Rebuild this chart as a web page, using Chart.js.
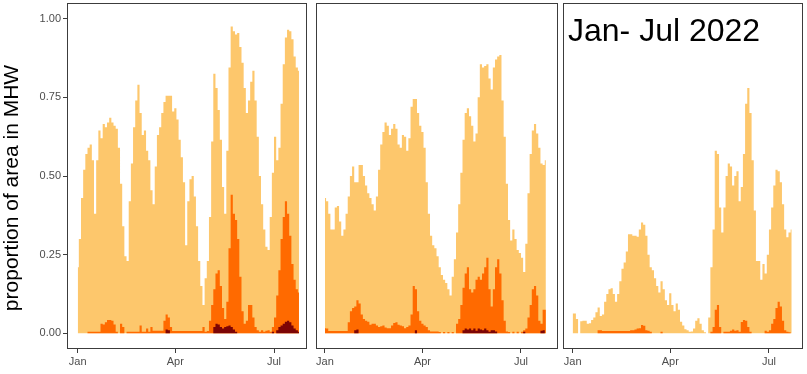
<!DOCTYPE html>
<html>
<head>
<meta charset="utf-8">
<script src="https://cdn.jsdelivr.net/npm/chart.js@4.4.1/dist/chart.umd.min.js"></script>
<style>
html,body{margin:0;padding:0;background:#fff;width:807px;height:374px;overflow:hidden}
.p{position:absolute;top:0;height:374px}
canvas{display:block}
</style>
</head>
<body>
<div class="p" style="left:0;width:310px"><canvas id="c1" width="310" height="374"></canvas></div>
<div class="p" style="left:310px;width:252px"><canvas id="c2" width="252" height="374"></canvas></div>
<div class="p" style="left:560px;width:247px"><canvas id="c3" width="247" height="374"></canvas></div>
<script>
// day of year (0 = 1 Jan), every second day
const days = [0,2,4,6,8,10,12,14,16,18,20,22,24,26,28,30,32,34,36,38,40,42,44,46,48,50,52,54,56,58,60,62,64,66,68,70,72,74,76,78,80,82,84,86,88,90,92,94,96,98,100,102,104,106,108,110,112,114,116,118,120,122,124,126,128,130,132,134,136,138,140,142,144,146,148,150,152,154,156,158,160,162,164,166,168,170,172,174,176,178,180,182,184,186,188,190,192,194,196,198,200,202,204];
const tickDays = [0, 90, 181];
const tickLabels = ['Jan', 'Apr', 'Jul'];
const yTicks = [0, 0.25, 0.5, 0.75, 1];
const yTitle = 'proportion of area in MHW';
const panelLabel = 'Jan- Jul 2022';

// Panel 1
const p1Moderate = [
0.21,0.30,0.43,0.52,0.57,0.59,0.60,0.55,0.38,0.55,
0.645,0.62,0.665,0.655,0.67,0.685,0.67,0.66,0.65,0.59,
0.475,0.34,0.245,0.23,0.42,0.54,0.655,0.74,0.79,0.70,
0.63,0.645,0.58,0.55,0.455,0.41,0.53,0.63,0.655,0.70,
0.735,0.755,0.755,0.755,0.705,0.715,0.68,0.615,0.56,0.48,
0.28,0.42,0.49,0.50,0.435,0.34,0.23,0.15,0.09,0.175,
0.23,0.37,0.61,0.825,0.78,0.71,0.615,0.465,0.38,0.58,
0.845,0.975,0.96,0.95,0.955,0.91,0.86,0.78,0.70,0.74,
0.80,0.835,0.74,0.625,0.50,0.41,0.33,0.275,0.265,0.37,
0.51,0.625,0.55,0.59,0.73,0.855,0.94,0.965,0.96,0.935,
0.88,0.845,0.835];
const p1Strong = [
0,0,0,0,0,0.005,0.005,0.005,0.005,0.005,
0.005,0.03,0.028,0.035,0.042,0.042,0.04,0.028,0.005,0,
0.03,0.02,0,0.005,0.005,0.005,0.005,0.005,0.005,0.025,
0.005,0.005,0.015,0.005,0.02,0.008,0.008,0.008,0.008,0.008,
0.04,0.06,0.05,0.02,0.007,0.007,0.007,0.007,0.007,0.007,
0.007,0.007,0.007,0.007,0.007,0.007,0.007,0.007,0.02,0.005,
0.007,0.04,0.09,0.14,0.19,0.20,0.15,0.08,0.045,0.10,
0.27,0.44,0.38,0.36,0.30,0.18,0.07,0.03,0.04,0.09,
0.09,0.05,0.02,0.01,0.005,0.01,0.005,0.008,0.01,0.005,
0.02,0.05,0.12,0.20,0.30,0.37,0.42,0.38,0.31,0.22,
0.17,0.14,0.13];
const p1Severe = [
0,0,0,0,0,0,0,0,0,0,
0,0,0,0,0,0,0,0,0,0,
0,0,0,0,0,0,0,0,0,0,
0,0,0,0,0,0,0,0,0,0,
0,0.012,0.01,0,0,0,0,0,0,0,
0,0,0,0,0,0,0,0,0,0,
0,0,0,0.02,0.03,0.028,0.02,0.015,0.02,0.022,
0.025,0.02,0.012,0.005,0,0,0,0,0,0,
0,0,0,0,0,0,0,0,0,0,
0.005,0,0.01,0.02,0.025,0.03,0.037,0.04,0.035,0.025,
0.015,0.01,0.005];

// Panel 2
const p2Moderate = [
0.43,0.42,0.38,0.33,0.33,0.40,0.405,0.355,0.31,0.33,
0.38,0.435,0.50,0.53,0.48,0.48,0.535,0.535,0.50,0.47,
0.445,0.43,0.41,0.39,0.435,0.52,0.60,0.64,0.67,0.66,
0.63,0.65,0.665,0.65,0.60,0.59,0.63,0.625,0.58,0.62,
0.72,0.745,0.745,0.70,0.66,0.64,0.59,0.48,0.38,0.31,
0.28,0.27,0.245,0.21,0.185,0.17,0.16,0.14,0.12,0.18,
0.235,0.32,0.41,0.51,0.615,0.70,0.715,0.69,0.66,0.61,
0.635,0.75,0.855,0.845,0.85,0.855,0.81,0.775,0.845,0.87,
0.88,0.885,0.74,0.625,0.475,0.36,0.295,0.33,0.30,0.265,
0.255,0.24,0.195,0.285,0.445,0.57,0.645,0.665,0.635,0.59,
0.54,0.535,0.55];
const p2Strong = [
0.016,0.015,0.007,0.007,0.007,0.007,0.007,0.007,0.007,0.007,
0.007,0.035,0.07,0.08,0.085,0.105,0.095,0.06,0.045,0.04,
0.037,0.027,0.03,0.03,0.025,0.02,0.022,0.025,0.018,0.016,
0.016,0.025,0.033,0.035,0.027,0.025,0.022,0.016,0.02,0.025,
0.06,0.15,0.14,0.07,0.04,0.03,0.025,0.02,0.01,0.006,
0.006,0.006,0.006,0.004,0,0.004,0,0.004,0,0.004,
0,0.03,0.045,0.09,0.145,0.19,0.21,0.14,0.13,0.14,
0.17,0.18,0.17,0.19,0.21,0.24,0.14,0.085,0.14,0.21,
0.235,0.19,0.105,0.04,0.006,0.004,0,0.005,0,0.005,
0,0.005,0.01,0.015,0.05,0.09,0.14,0.15,0.12,0.04,
0.03,0.075,0.075];
const p2Severe = [
0,0,0,0,0,0,0,0,0,0,
0,0,0,0,0.01,0.012,0,0,0,0,
0,0,0,0,0,0,0,0,0,0,
0,0,0,0,0,0,0,0,0,0,
0,0,0.01,0,0,0,0,0,0,0,
0,0,0,0,0,0,0,0,0,0,
0,0,0,0,0.01,0.015,0.012,0.015,0.01,0.015,
0.008,0.015,0.012,0.01,0.015,0.01,0.005,0.01,0.01,0.006,
0,0,0,0,0,0,0,0,0,0,
0,0,0.005,0,0,0,0,0,0,0,
0.008,0.01,0];

// Panel 3 (Jan - Jul 2022)
const p3Moderate = [
0.063,0.063,0.045,0,0.038,0.04,0.04,0.03,0.032,0.042,
0.05,0.067,0.082,0.055,0.06,0.10,0.125,0.14,0.143,0.125,
0.10,0.125,0.165,0.205,0.225,0.26,0.315,0.315,0.31,0.31,
0.307,0.33,0.352,0.345,0.31,0.25,0.21,0.20,0.175,0.15,
0.13,0.165,0.14,0.105,0.09,0.127,0.09,0.07,0.095,0.075,
0.037,0.025,0.013,0.01,0.005,0.006,0.015,0.04,0.048,0.03,
0.01,0.003,0,0.05,0.21,0.33,0.58,0.57,0.40,0.32,
0.40,0.50,0.54,0.53,0.47,0.50,0.515,0.42,0.465,0.57,
0.73,0.78,0.70,0.55,0.39,0.23,0.23,0.17,0.22,0.19,
0.25,0.33,0.40,0.47,0.52,0.515,0.48,0.41,0.33,0.305,
0.32,0.33,null];
const p3Strong = [
0,0,0,0,0,0,0,0,0,0,
0,0,0.01,0.01,0.007,0.007,0.007,0.007,0.007,0.007,
0.007,0.007,0.007,0.007,0.007,0.007,0.007,0.01,0.01,0.012,
0.015,0.016,0.026,0.024,0.01,0.008,0.005,0,0,0,
0,0.005,0,0,0,0,0,0,0,0,
0,0,0,0,0,0,0,0,0,0,
0,0,0,0,0.005,0.02,0.075,0.09,0.02,0,
0.005,0.005,0.005,0.008,0.012,0.008,0.01,0.005,0.036,0.042,
0.04,0.02,0.005,0,0,0,0,0,0,0.008,
0.005,0.01,0.03,0.045,0.08,0.10,0.085,0.04,0.01,0.005,
0.003,0,null];

const COLORS = {moderate:'#FDC76C', strong:'#FF6A00', severe:'#7D0505'};
const FONT = '"Liberation Sans", Arial, Helvetica, sans-serif';

function series(vals, color, order){
  return {
    type:'line',
    data: days.map((d,i)=>({x:d, y:vals[i]})),
    stepped:'middle',
    fill:'origin',
    backgroundColor:color,
    borderColor:'rgba(0,0,0,0)',
    borderWidth:0,
    pointRadius:0,
    order:order
  };
}

const framePlugin = {
  id:'frame',
  afterDatasetsDraw(chart){
    const {ctx, chartArea:a} = chart;
    ctx.save();
    ctx.strokeStyle = '#3c3c3c';
    ctx.lineWidth = 1;
    const l = Math.round(a.left)+0.5, t = Math.round(a.top)+0.5;
    const r = Math.round(a.right)-0.5, b = Math.round(a.bottom)-0.5;
    ctx.strokeRect(l, t, r-l, b-t);
    ctx.restore();
  }
};

function makePanel(id, sets, xr, pad, showY, extra){
  const datasets = [];
  datasets.push(series(sets.moderate, COLORS.moderate, 3));
  datasets.push(series(sets.strong, COLORS.strong, 2));
  if (sets.severe) datasets.push(series(sets.severe, COLORS.severe, 1));
  return new Chart(document.getElementById(id), {
    type:'line',
    data:{datasets},
    options:{
      responsive:false,
      animation:false,
      events:[],
      layout:{padding:pad},
      plugins:{legend:{display:false}, tooltip:{enabled:false}},
      scales:{
        x:{
          type:'linear', min:xr[0], max:xr[1],
          afterBuildTicks:s=>{ s.ticks = tickDays.map(v=>({value:v})); },
          ticks:{autoSkip:false, maxRotation:0, padding:2, color:'#4d4d4d',
                 font:{family:FONT, size:11},
                 callback:v=>tickLabels[tickDays.indexOf(v)]},
          grid:{display:true, drawOnChartArea:false, drawTicks:true, tickLength:4, color:'#3c3c3c'},
          border:{display:false},
          afterFit:s=>{ s.height = 25; s.paddingLeft = 0; s.paddingRight = 0; }
        },
        y:{
          display:showY, min:-0.05, max:1.05,
          afterBuildTicks:s=>{ s.ticks = yTicks.map(v=>({value:v})); },
          ticks:{padding:2, color:'#4d4d4d', font:{family:FONT, size:11},
                 callback:v=>Number(v).toFixed(2)},
          grid:{display:true, drawOnChartArea:false, drawTicks:true, tickLength:4, color:'#3c3c3c'},
          border:{display:false},
          afterFit:s=>{ s.width = showY ? 67 : 0; s.paddingTop = 0; s.paddingBottom = 0; }
        }
      }
    },
    plugins:[framePlugin].concat(extra||[])
  });
}

const yTitlePlugin = {
  id:'ytitle',
  afterDraw(chart){
    const ctx = chart.ctx;
    ctx.save();
    ctx.translate(12.5, 188);
    ctx.rotate(-Math.PI/2);
    ctx.fillStyle = '#000';
    ctx.font = '21px ' + FONT;
    ctx.textAlign = 'center';
    ctx.textBaseline = 'middle';
    ctx.fillText(yTitle, 0, 0);
    ctx.restore();
  }
};
const labelPlugin = {
  id:'plabel',
  afterDraw(chart){
    const ctx = chart.ctx;
    ctx.save();
    ctx.fillStyle = '#000';
    ctx.font = '32px ' + FONT;
    ctx.textAlign = 'left';
    ctx.textBaseline = 'alphabetic';
    ctx.fillText(panelLabel, 8, 41);
    ctx.restore();
  }
};

makePanel('c1', {moderate:p1Moderate, strong:p1Strong, severe:p1Severe}, [-9.9, 211.4], {left:0, right:3, top:3, bottom:0}, true, [yTitlePlugin]);
makePanel('c2', {moderate:p2Moderate, strong:p2Strong, severe:p2Severe}, [-8.3, 215.2], {left:6, right:4, top:3, bottom:0}, false);
makePanel('c3', {moderate:p3Moderate, strong:p3Strong}, [-8.9, 212.4], {left:3, right:4, top:3, bottom:0}, false, [labelPlugin]);
</script>
</body>
</html>
